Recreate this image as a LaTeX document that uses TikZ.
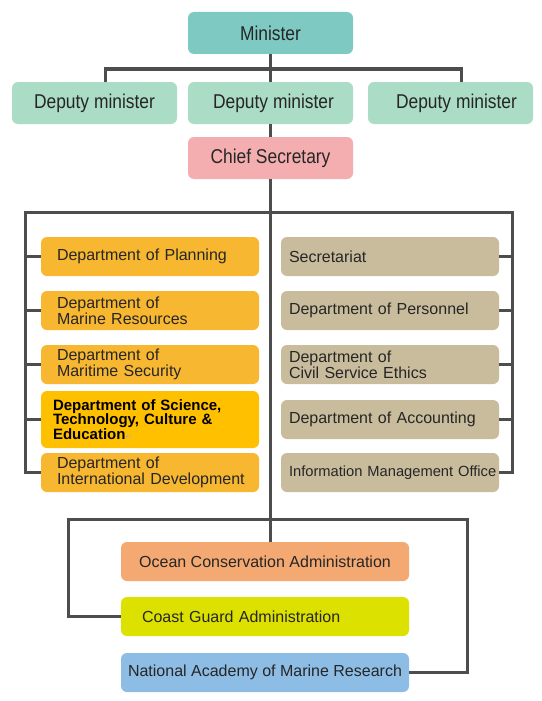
\documentclass[tikz,border=0pt]{standalone}
\usepackage{fontspec}
\setmainfont{Liberation Sans}
\newfontfamily\condfont[FakeStretch=0.87]{Liberation Sans}
\newfontfamily\symfont{DejaVu Sans}
\definecolor{linec}{HTML}{4D4D4D}
\definecolor{txt}{HTML}{262626}
\definecolor{minc}{HTML}{7ECAC3}
\definecolor{depc}{HTML}{ABDCC6}
\definecolor{chiefc}{HTML}{F4AEB0}
\definecolor{orangec}{HTML}{F7B731}
\definecolor{goldc}{HTML}{FFC000}
\definecolor{tanc}{HTML}{C9BC9C}
\definecolor{oceanc}{HTML}{F5A972}
\definecolor{coastc}{HTML}{DCE100}
\definecolor{natc}{HTML}{8DBDE5}
\newcommand\nohyph{\hyphenpenalty=10000\exhyphenpenalty=10000\hbadness=10000\hfuzz=100pt}
\tikzset{
  box/.style={rounded corners=6pt, inner ysep=0pt, text=txt},
  topbox/.style={box, minimum width=165pt, minimum height=42pt, inner xsep=0pt,
    font=\condfont\fontsize{20}{20}\selectfont, align=center},
  lbox/.style={box, fill=orangec, minimum height=39pt, inner xsep=16pt, text width=186pt,
    align=left, font=\nohyph\fontsize{16}{16}\selectfont},
  rbox/.style={box, fill=tanc, minimum height=39pt, inner xsep=8pt, text width=202pt,
    align=left, font=\nohyph\fontsize{16}{16}\selectfont},
  bbox/.style={box, minimum height=39pt, minimum width=288pt, inner xsep=0pt,
    font=\fontsize{16}{16}\selectfont},
  conn/.style={draw=linec, line width=3pt}
}
\begin{document}
\begin{tikzpicture}[x=1pt,y=-1pt]
\fill[white] (0,0) rectangle (541,701);
\useasboundingbox (0,0) rectangle (541,701);
% top
\node[topbox, fill=minc] (min) at (270.5,33) {Minister};
\node[topbox, fill=depc] (dep1) at (94.5,103) {Deputy minister};
\node[topbox, fill=depc] (dep2) at (270.5,103) {\hspace*{6pt}Deputy minister};
\node[topbox, fill=depc] (dep3) at (450.5,103) {\hspace*{12pt}Deputy minister};
\node[topbox, fill=chiefc] (chief) at (270.5,158) {Chief Secretary};
% left column
\node[lbox] (l1) at (150,256.5) {Department of Planning};
\node[lbox] (l2) at (150,310.5) {Department of\\Marine Resources};
\node[lbox] (l3) at (150,364.5) {Department of\\Maritime Security};
\node[box, fill=goldc, minimum height=57pt, inner xsep=12pt, text width=194pt, align=left,
  text=black, font=\nohyph\bfseries\fontsize{15}{14.5}\selectfont] (l4) at (150,419.5)
  {Department of Science,\\Technology, Culture \&\\Education{\mdseries\symfont\fontsize{8}{8}\selectfont\textcolor{gray!60}{↵}}};
\node[lbox] (l5) at (150,472.5) {Department of\\\mbox{International Development}};
% right column
\node[rbox] (r1) at (390,256.5) {Secretariat};
\node[rbox] (r2) at (390,310.5) {Department of Personnel};
\node[rbox] (r3) at (390,364.5) {Department of\\Civil Service Ethics};
\node[rbox] (r4) at (390,419.5) {Department of Accounting};
\node[rbox, font=\nohyph\fontsize{14.7}{14.7}\selectfont] (r5) at (390,472.5) {\mbox{Information Management Office}};
% bottom
\node[bbox, fill=oceanc] (ocean) at (265,561.5) {Ocean Conservation Administration};
\node[bbox, fill=coastc, inner xsep=21pt, text width=246pt, align=left] (coast) at (265,616.5) {Coast Guard Administration};
\node[bbox, fill=natc] (nat) at (265,672.5) {National Academy of Marine Research};
% coordinates
\coordinate (busM) at (270.5,69);
\coordinate (dl) at (105,82);
\coordinate (dr) at (461,82);
\coordinate (busL) at (25,212);
\coordinate (busR) at (512,212);
\coordinate (bl) at (68,519);
\coordinate (br) at (467,519);
% connectors
\draw[conn] (min) -- (dep2);
\draw[conn] (dl) |- (busM) -| (dr);
\draw[conn] (dep2) -- (chief);
\draw[conn] (chief.south) -- (chief.south |- ocean.north);
\draw[conn] (l5.west) -| (busL) -- (busR) |- (r5.east);
\foreach \n in {l1,l2,l3,l4} \draw[conn] (\n.west) -- (busL |- \n.west);
\foreach \n in {r1,r2,r3,r4} \draw[conn] (\n.east) -- (busR |- \n.east);
\draw[conn] (coast.west) -| (bl) -- (br) |- (nat.east);
\end{tikzpicture}
\end{document}
